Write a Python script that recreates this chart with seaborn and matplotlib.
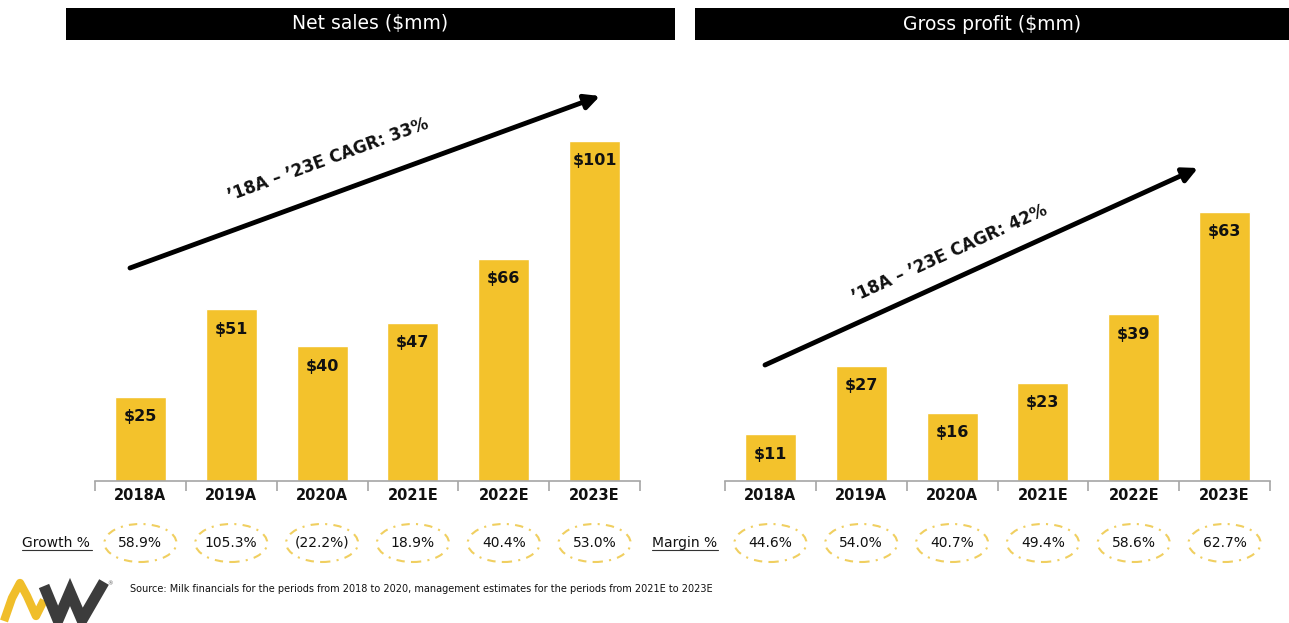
import matplotlib
matplotlib.use("Agg")
import matplotlib.pyplot as plt
import seaborn as sns
import pandas as pd
from matplotlib.patches import Ellipse, Rectangle, FancyArrowPatch
from matplotlib.lines import Line2D

# ---- data ----
years = ["2018A", "2019A", "2020A", "2021E", "2022E", "2023E"]
net_sales = [25, 51, 40, 47, 66, 101]
gross_profit = [11, 27, 16, 23, 39, 63]
growth_labels = ["58.9%", "105.3%", "(22.2%)", "18.9%", "40.4%", "53.0%"]
margin_labels = ["44.6%", "54.0%", "40.7%", "49.4%", "58.6%", "62.7%"]
panel_titles = ["Net sales ($mm)", "Gross profit ($mm)"]
cagr_labels = ["\u201918A \u2013 \u201923E CAGR: 33%", "\u201918A \u2013 \u201923E CAGR: 42%"]
row_labels = ["Growth %", "Margin %"]
source_note = ("Source: Milk financials for the periods from 2018 to 2020, "
               "management estimates for the periods from 2021E to 2023E")

# ---- style ----
sns.set_theme(style="white")
plt.rcParams["font.family"] = ["DejaVu Sans"]
BAR = "#F3C22C"
OVAL = "#F0CF60"
AXIS_GREY = "#A6A6A6"

W, H = 1289, 623
fig = plt.figure(figsize=(W / 100, H / 100), dpi=100)
fig.patch.set_facecolor("white")


def fx(x):
    return x / W


def fy(y):
    return 1 - y / H


BASE = 481   # baseline row in pixels
TOP = 60


def make_panel(left, right, values, pct_labels, px_per_unit):
    ax = fig.add_axes([fx(left), fy(BASE), (right - left) / W, (BASE - TOP) / H])
    df = pd.DataFrame({"year": years, "value": values})
    sns.barplot(data=df, x="year", y="value", ax=ax, color=BAR,
                saturation=1, width=0.56)
    ax.set_xlim(-0.5, len(years) - 0.5)
    ax.set_ylim(0, (BASE - TOP) / px_per_unit)
    ax.set_xlabel("")
    ax.set_ylabel("")
    ax.set_yticks([])
    for s in ["top", "left", "right"]:
        ax.spines[s].set_visible(False)
    ax.spines["bottom"].set_color(AXIS_GREY)
    ax.spines["bottom"].set_linewidth(1.2)
    ax.set_xticks(range(len(years)))
    ax.set_xticklabels(years, fontsize=10.5, fontweight="bold", color="#111111")
    ax.tick_params(axis="x", which="major", length=0, pad=5)
    # boundary ticks between categories
    ax.set_xticks([i - 0.5 for i in range(len(years) + 1)], minor=True)
    ax.tick_params(axis="x", which="minor", bottom=True, length=7, width=1.2,
                   color=AXIS_GREY, direction="out")
    ax.set_facecolor("none")

    for i, v in enumerate(values):
        ax.annotate(f"${v}", (i, v), xytext=(0, -9), textcoords="offset points",
                    ha="center", va="top", fontsize=11.5, fontweight="bold",
                    color="#111111")

    unit_w = (right - left) / len(years)
    cy = (BASE - 543) / px_per_unit
    for i, lab in enumerate(pct_labels):
        e = Ellipse((i, cy), width=72 / unit_w, height=38 / px_per_unit,
                    fill=False, edgecolor=OVAL, linewidth=1.5,
                    linestyle=(0, (4, 3, 1, 3)), clip_on=False)
        ax.add_patch(e)
        ax.text(i, cy, lab, ha="center", va="center", fontsize=10,
                color="#111111", clip_on=False)
    return ax


make_panel(95, 640, net_sales, growth_labels, 3.37)
make_panel(725, 1270, gross_profit, margin_labels, 4.27)

# ---- title bars ----
for (x0, x1), title in zip([(66, 675), (695, 1289)], panel_titles):
    fig.add_artist(Rectangle((fx(x0), fy(40)), (x1 - x0) / W, 32 / H,
                             transform=fig.transFigure, facecolor="black",
                             edgecolor="none"))
    fig.text(fx((x0 + x1) / 2), fy(24), title, color="white", fontsize=13.5,
             ha="center", va="center")

# ---- CAGR arrows ----
arrows = [((130, 268), (600, 96), (328, 160), 20.1),
          ((765, 365), (1198, 168), (950, 253), 24.5)]
for ((x0, y0), (x1, y1), (tx, ty), ang), lab in zip(arrows, cagr_labels):
    fig.add_artist(FancyArrowPatch((fx(x0), fy(y0)), (fx(x1), fy(y1)),
                                   transform=fig.transFigure,
                                   arrowstyle="-|>", mutation_scale=22,
                                   linewidth=3.5, color="black",
                                   shrinkA=0, shrinkB=0))
    fig.text(fx(tx), fy(ty), lab, rotation=ang, rotation_mode="anchor",
             ha="center", va="center", fontsize=12, fontweight="bold",
             color="#111111")

# ---- row labels with underline ----
for (x0, x1), lab in zip([(22, 92), (652, 718)], row_labels):
    fig.text(fx(x0), fy(543), lab, ha="left", va="center", fontsize=10,
             color="#111111")
    fig.add_artist(Line2D([fx(x0), fx(x1)], [fy(550), fy(550)],
                          transform=fig.transFigure, color="#333333",
                          linewidth=0.8))

# ---- source note ----
fig.text(fx(130), fy(589), source_note, ha="left", va="center", fontsize=7,
         color="#111111")

# ---- logo ----
yel = [(4, 621), (12, 598), (20, 583), (27, 596), (36, 616), (44, 600)]
fig.add_artist(Line2D([fx(p[0]) for p in yel], [fy(p[1]) for p in yel],
                      transform=fig.transFigure, color="#F0BE2A",
                      linewidth=6, solid_joinstyle="round",
                      solid_capstyle="butt"))
grey = [(44, 586), (58, 620), (70, 592), (82, 620), (104, 582)]
fig.add_artist(Line2D([fx(p[0]) for p in grey], [fy(p[1]) for p in grey],
                      transform=fig.transFigure, color="#3C3C3C",
                      linewidth=8, solid_joinstyle="miter",
                      solid_capstyle="butt"))
fig.text(fx(110), fy(584), "\u00ae", fontsize=4, ha="center", va="center",
         color="#555555")

fig.savefig("out.png", dpi=100)
